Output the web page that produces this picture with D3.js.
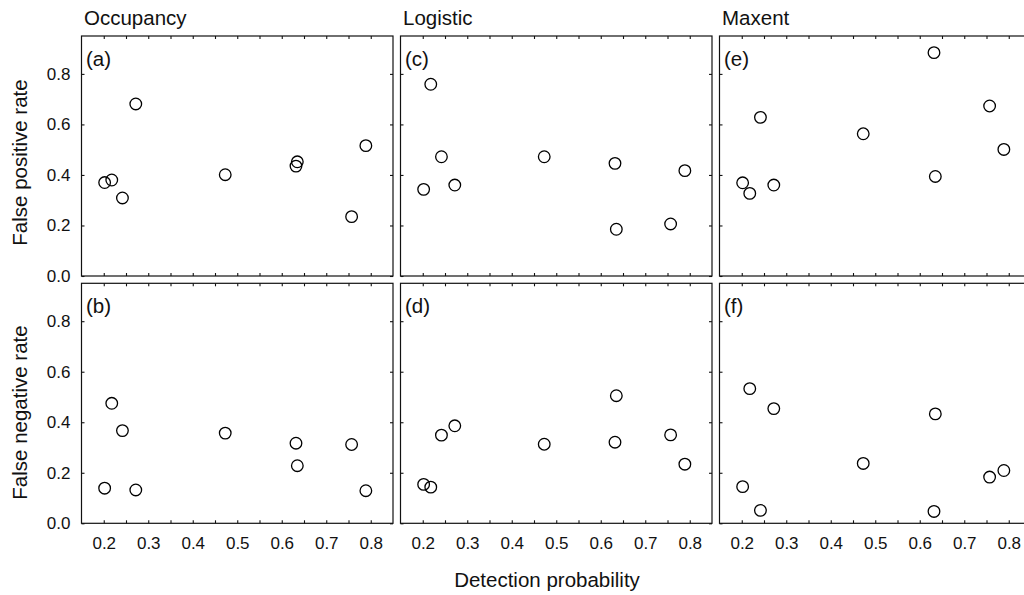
<!DOCTYPE html>
<html lang="en">
<head>
    <meta charset="UTF-8">
    <title>Detection probability vs error rates</title>
    <script src="https://d3js.org/d3.v7.min.js"></script>
    <style>
        body {
            margin: 0;
            background: #fff;
            font-family: "Liberation Sans", Arial, sans-serif;
        }
        .tick line {
            stroke: #111;
            stroke-width: 1.1;
        }
        .tick text {
            font-size: 17px;
            fill: #111;
        }
        .frame {
            fill: none;
            stroke: #111;
            stroke-width: 1.2;
        }
        .pt {
            fill: none;
            stroke: #000;
            stroke-width: 1.3;
        }
        .big-label {
            font-size: 20.5px;
            fill: #111;
        }
    </style>
</head>
<body>
    <svg id="chart" width="1024" height="595"></svg>

    <script>
        // detection probability of the nine species (same in every panel)
        const detectProb = [0.202, 0.218, 0.242, 0.272, 0.473, 0.632, 0.635, 0.757, 0.789];

        // false positive rates (top row)
        const occupancyFP = [0.370, 0.380, 0.309, 0.681, 0.401, 0.435, 0.452, 0.235, 0.516];
        const logisticFP  = [0.343, 0.759, 0.472, 0.360, 0.472, 0.446, 0.185, 0.206, 0.417];
        const maxentFP    = [0.369, 0.327, 0.628, 0.360, 0.563, 0.884, 0.394, 0.673, 0.501];

        // false negative rates (bottom row)
        const occupancyFN = [0.139, 0.475, 0.367, 0.132, 0.357, 0.317, 0.228, 0.312, 0.129];
        const logisticFN  = [0.154, 0.143, 0.349, 0.386, 0.313, 0.321, 0.505, 0.350, 0.234];
        const maxentFN    = [0.145, 0.533, 0.051, 0.454, 0.237, 0.047, 0.433, 0.183, 0.209];

        const methods = ["Occupancy", "Logistic", "Maxent"];
        const rowLabels = ["False positive rate", "False negative rate"];
        const panelLetters = [["(a)", "(b)"], ["(c)", "(d)"], ["(e)", "(f)"]];
        const xTicks = [0.2, 0.25, 0.3, 0.35, 0.4, 0.45, 0.5, 0.55, 0.6, 0.65, 0.7, 0.75, 0.8];
        const yTicks = [0, 0.2, 0.4, 0.6, 0.8];

        const seriesByPanel = [
            [occupancyFP, occupancyFN],
            [logisticFP, logisticFN],
            [maxentFP, maxentFN]
        ];

        const plotLeft = 81.5, plotTop = 36;
        const panelW = 311.5, panelH = 240;
        const gapX = 7.5, gapY = 7.3;

        const x = d3.scaleLinear().domain([0.15, 0.85]).range([0, panelW]);
        const y = d3.scaleLinear().domain([0, 0.95]).range([panelH, 0]);

        const svg = d3.select("#chart");

        const isMajor = v => Math.abs(v * 10 - Math.round(v * 10)) < 1e-6;

        methods.forEach((method, col) => {
            const px = plotLeft + col * (panelW + gapX);

            svg.append("text")
                .attr("class", "big-label")
                .attr("x", px + 2.5)
                .attr("y", 24.5)
                .text(method);

            [0, 1].forEach(row => {
                const py = plotTop + row * (panelH + gapY);
                const g = svg.append("g")
                    .attr("transform", `translate(${px},${py})`);

                // ticks on all four sides, pointing inwards
                g.append("g")
                    .attr("transform", `translate(0,${panelH})`)
                    .call(d3.axisBottom(x).tickValues(xTicks).tickSize(-3).tickPadding(13.5)
                        .tickFormat(d => (row === 1 && isMajor(d)) ? d3.format(".1f")(d) : ""))
                    .call(a => a.select(".domain").remove());

                g.append("g")
                    .call(d3.axisTop(x).tickValues(xTicks).tickSize(-3).tickFormat(""))
                    .call(a => a.select(".domain").remove());

                g.append("g")
                    .call(d3.axisLeft(y).tickValues(yTicks).tickSize(-3).tickPadding(11)
                        .tickFormat(d => col === 0 ? d3.format(".1f")(d) : ""))
                    .call(a => a.select(".domain").remove());

                g.append("g")
                    .attr("transform", `translate(${panelW},0)`)
                    .call(d3.axisRight(y).tickValues(yTicks).tickSize(-3).tickFormat(""))
                    .call(a => a.select(".domain").remove());

                g.selectAll("g").attr("font-family", null).attr("font-size", null);

                g.append("rect")
                    .attr("class", "frame")
                    .attr("width", panelW)
                    .attr("height", panelH);

                g.selectAll("circle")
                    .data(detectProb.map((d, i) => [d, seriesByPanel[col][row][i]]))
                    .enter()
                    .append("circle")
                    .attr("class", "pt")
                    .attr("cx", d => x(d[0]))
                    .attr("cy", d => y(d[1]))
                    .attr("r", 5.8);

                g.append("text")
                    .attr("class", "big-label")
                    .attr("x", 4.5)
                    .attr("y", 30)
                    .text(panelLetters[col][row]);
            });
        });

        // row labels
        rowLabels.forEach((lab, row) => {
            const cy = row === 0 ? 162.5 : 412.5;
            svg.append("text")
                .attr("class", "big-label")
                .attr("text-anchor", "middle")
                .attr("transform", `translate(27,${cy}) rotate(-90)`)
                .text(lab);
        });

        svg.append("text")
            .attr("class", "big-label")
            .attr("text-anchor", "middle")
            .attr("x", 547)
            .attr("y", 587)
            .text("Detection probability");
    </script>
</body>
</html>
